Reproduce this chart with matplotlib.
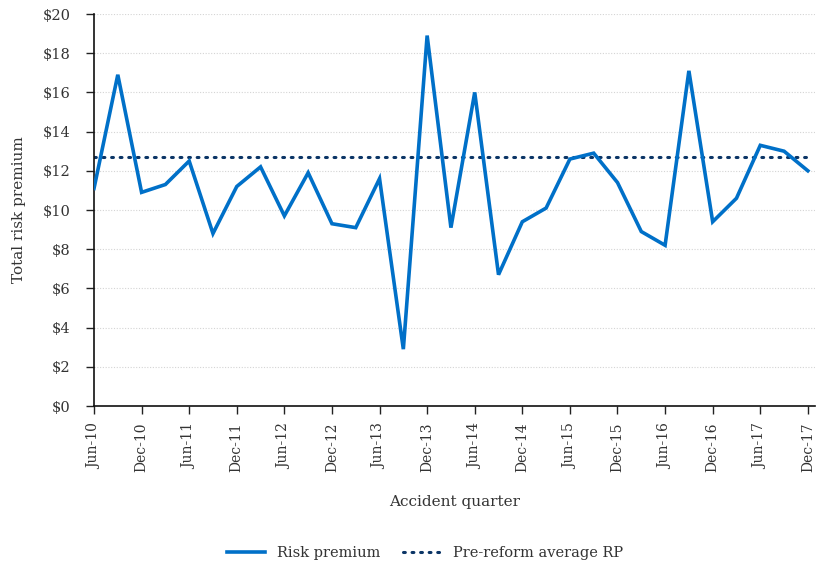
import matplotlib
matplotlib.use("Agg")
import matplotlib.pyplot as plt
from matplotlib.lines import Line2D

# quarterly accident periods, Jun-10 .. Dec-17
months = ["Mar", "Jun", "Sep", "Dec"]
quarters = [f"{m}-{y:02d}" for y in range(10, 18) for m in months][1:]

risk_premium = [
    11.1, 16.9, 10.9, 11.3, 12.5, 8.8, 11.2, 12.2, 9.7, 11.9,
    9.3, 9.1, 11.6, 2.9, 18.9, 9.1, 16.0, 6.7, 9.4, 10.1,
    12.6, 12.9, 11.4, 8.9, 8.2, 17.1, 9.4, 10.6, 13.3, 13.0,
    12.0,
]
pre_reform_avg = 12.7

BLUE = "#0070c8"
NAVY = "#0b3566"
TEXT = "#333333"

plt.rcParams["font.family"] = ["DejaVu Serif"]

fig = plt.figure(figsize=(8.16, 5.68), dpi=100)
ax = fig.add_axes([94 / 816, 1 - 406 / 568, 721 / 816, 392 / 568])

x = list(range(len(quarters)))
ax.plot(x, risk_premium, color=BLUE, linewidth=2.6, solid_joinstyle="miter", zorder=3)
ax.plot(x, [pre_reform_avg] * len(x), color=NAVY, linewidth=2.2,
        linestyle=(0, (0.6, 2.2)), dash_capstyle="round", zorder=2)

ax.set_xlim(0, len(x) - 1 + 0.3)
ax.set_ylim(0, 20)
ax.set_yticks(range(0, 21, 2))
ax.set_yticklabels([f"${v}" for v in range(0, 21, 2)], fontsize=10.5, color=TEXT)
tick_idx = [i for i, q in enumerate(quarters) if q[:3] in ("Jun", "Dec")]
ax.set_xticks(tick_idx)
ax.set_xticklabels([quarters[i] for i in tick_idx], rotation=90, fontsize=10, color=TEXT)
ax.tick_params(axis="both", length=6, width=1, color="#222222")
ax.tick_params(axis="y", pad=11)
ax.tick_params(axis="x", pad=6)

ax.grid(axis="y", color="#d4d4d4", linestyle=(0, (1, 1.5)), linewidth=0.8)
ax.set_axisbelow(True)
for s in ("top", "right"):
    ax.spines[s].set_visible(False)
for s in ("left", "bottom"):
    ax.spines[s].set_color("#111111")
    ax.spines[s].set_linewidth(1.2)

ax.set_xlabel("Accident quarter", fontsize=11, color=TEXT, labelpad=16)
ax.set_ylabel("Total risk premium", fontsize=11, color=TEXT, labelpad=12)

handles = [
    Line2D([], [], color=BLUE, linewidth=2.6),
    Line2D([], [], color=NAVY, linewidth=2.2, linestyle=(0, (0.6, 2.2)), dash_capstyle="round"),
]
fig.legend(handles, ["Risk premium", "Pre-reform average RP"], loc="center",
           bbox_to_anchor=(425 / 816, 1 - 553 / 568), ncol=2, frameon=False,
           fontsize=10.5, handlelength=2.6, handletextpad=0.8, columnspacing=1.6,
           labelcolor=TEXT)

fig.savefig("out.png", dpi=100)
